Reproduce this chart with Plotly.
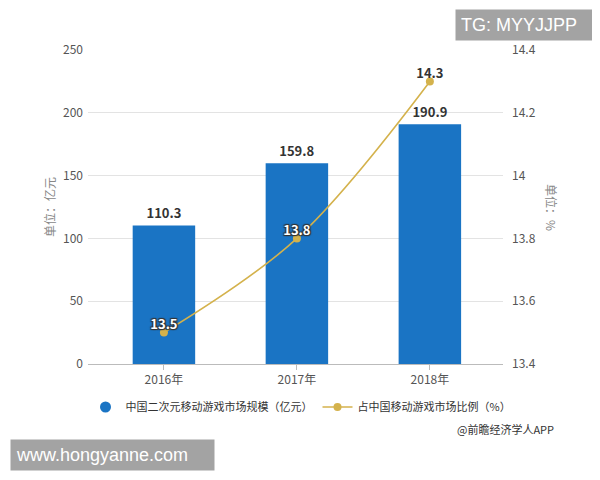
import plotly.graph_objects as go

years = ["2016年", "2017年", "2018年"]
market_size = [110.3, 159.8, 190.9]
share_pct = [13.5, 13.8, 14.3]
left_ticks = [0, 50, 100, 150, 200, 250]
right_ticks = [13.4, 13.6, 13.8, 14.0, 14.2, 14.4]

FONT = "Noto Sans CJK SC, Noto Sans, sans-serif"
BLUE = "#1A74C4"
GOLD = "#D4B24C"

# page body has an 8px margin: figure is drawn in (8,8)-(600,480)
W, H = 592, 472
L, R, T, B = 10, 10, 42, 116
PW, PH = W - L - R, H - T - B
AX_L, AX_R = 88 - 8, 503 - 8  # plot-area edges in figure pixels


def px(x):
    return (x - 8 - L) / PW


def py(y):
    return (H - B - (y - 8)) / PH


fig = go.Figure()

fig.add_trace(go.Bar(
    x=years, y=market_size, name="中国二次元移动游戏市场规模（亿元）",
    marker=dict(color=BLUE, line=dict(width=0)),
    text=[f"{v:.1f}" for v in market_size], textposition="outside",
    textfont=dict(family=FONT, size=13, color="#333333", weight="bold"),
    cliponaxis=False, showlegend=False,
))

# legend proxy with round symbol for the bar series
fig.add_trace(go.Scatter(
    x=[None], y=[None], mode="markers", name="中国二次元移动游戏市场规模（亿元）",
    marker=dict(color=BLUE, size=11, symbol="circle"), showlegend=True,
))

fig.add_trace(go.Scatter(
    x=years, y=share_pct, name="占中国移动游戏市场比例（%）", yaxis="y2",
    mode="lines+markers",
    line=dict(color=GOLD, width=1.6, shape="spline", smoothing=1),
    marker=dict(color=GOLD, size=8),
    cliponaxis=False,
))

inside = [i for i, v in enumerate(market_size) if (share_pct[i] - 13.4) / 1.0 * 250 < v]
outside = [i for i in range(len(years)) if i not in inside]

fig.add_trace(go.Scatter(
    x=[years[i] for i in inside], y=[share_pct[i] for i in inside], yaxis="y2",
    mode="text", text=[f"{share_pct[i]:.1f}" for i in inside], textposition="top center",
    textfont=dict(family=FONT, size=13, color="white", weight="bold",
                  shadow="1px 1px 1px #333, -1px -1px 1px #333, 1px -1px 1px #333, -1px 1px 1px #333"),
    showlegend=False, hoverinfo="skip", cliponaxis=False,
))
fig.add_trace(go.Scatter(
    x=[years[i] for i in outside], y=[share_pct[i] for i in outside], yaxis="y2",
    mode="text", text=[f"{share_pct[i]:.1f}" for i in outside], textposition="top center",
    textfont=dict(family=FONT, size=13, color="#333333", weight="bold"),
    showlegend=False, hoverinfo="skip", cliponaxis=False,
))

fig.update_layout(
    width=W, height=H,
    margin=dict(l=L, r=R, t=T, b=B, autoexpand=False),
    paper_bgcolor="white", plot_bgcolor="white",
    font=dict(family=FONT, size=12, color="#555555"),
    bargap=0.53,
    showlegend=True,
    legend=dict(orientation="h", x=px(301), xanchor="center",
                y=py(407), yanchor="middle",
                font=dict(family=FONT, size=11, color="#333333"),
                itemwidth=30, traceorder="normal"),
    xaxis=dict(domain=[(AX_L - L) / PW, (AX_R - L) / PW],
               range=[-0.571, 2.55], showgrid=False, showline=True, linecolor="#bbbbbb",
               ticks="outside", ticklen=5, tickcolor="#bbbbbb",
               tickfont=dict(family=FONT, size=12, color="#555555")),
    yaxis=dict(range=[0, 250], tickvals=left_ticks, showgrid=True, gridcolor="#e3e3e3",
               zeroline=False, showline=False, ticks="", ticklabelstandoff=4,
               tickfont=dict(family=FONT, size=12, color="#555555"),
               title=dict(text="单位：亿元", font=dict(family=FONT, size=12, color="#888888"),
                          standoff=4)),
    yaxis2=dict(range=[13.4, 14.4], tickvals=right_ticks, overlaying="y", side="right",
                showgrid=False, zeroline=False, showline=False, ticks="", ticklabelstandoff=8,
                tickfont=dict(family=FONT, size=12, color="#555555")),
)

fig.add_annotation(text="单位：%", textangle=90, xref="paper", yref="paper",
                   x=px(552), y=py(207), xanchor="center", yanchor="middle", showarrow=False,
                   font=dict(family=FONT, size=12, color="#888888"))

fig.add_annotation(text="@前瞻经济学人APP", xref="paper", yref="paper",
                   x=px(556), y=py(429), xanchor="right", yanchor="middle", showarrow=False,
                   font=dict(family=FONT, size=11, color="#333333"))

fig.add_annotation(text="TG: MYYJJPP", xref="paper", yref="paper",
                   x=px(455), y=py(25), xanchor="left", yanchor="middle",
                   showarrow=False, bgcolor="#a3a3a3", borderpad=5, width=130,
                   align="left", font=dict(family="Liberation Sans, Arial", size=18, color="white"))

fig.add_annotation(text="www.hongyanne.com", xref="paper", yref="paper",
                   x=px(10), y=py(455), xanchor="left", yanchor="middle",
                   showarrow=False, bgcolor="#a3a3a3", borderpad=5, width=193,
                   align="left", font=dict(family="Liberation Sans, Arial", size=18, color="white"))

fig.write_html("out.html")
